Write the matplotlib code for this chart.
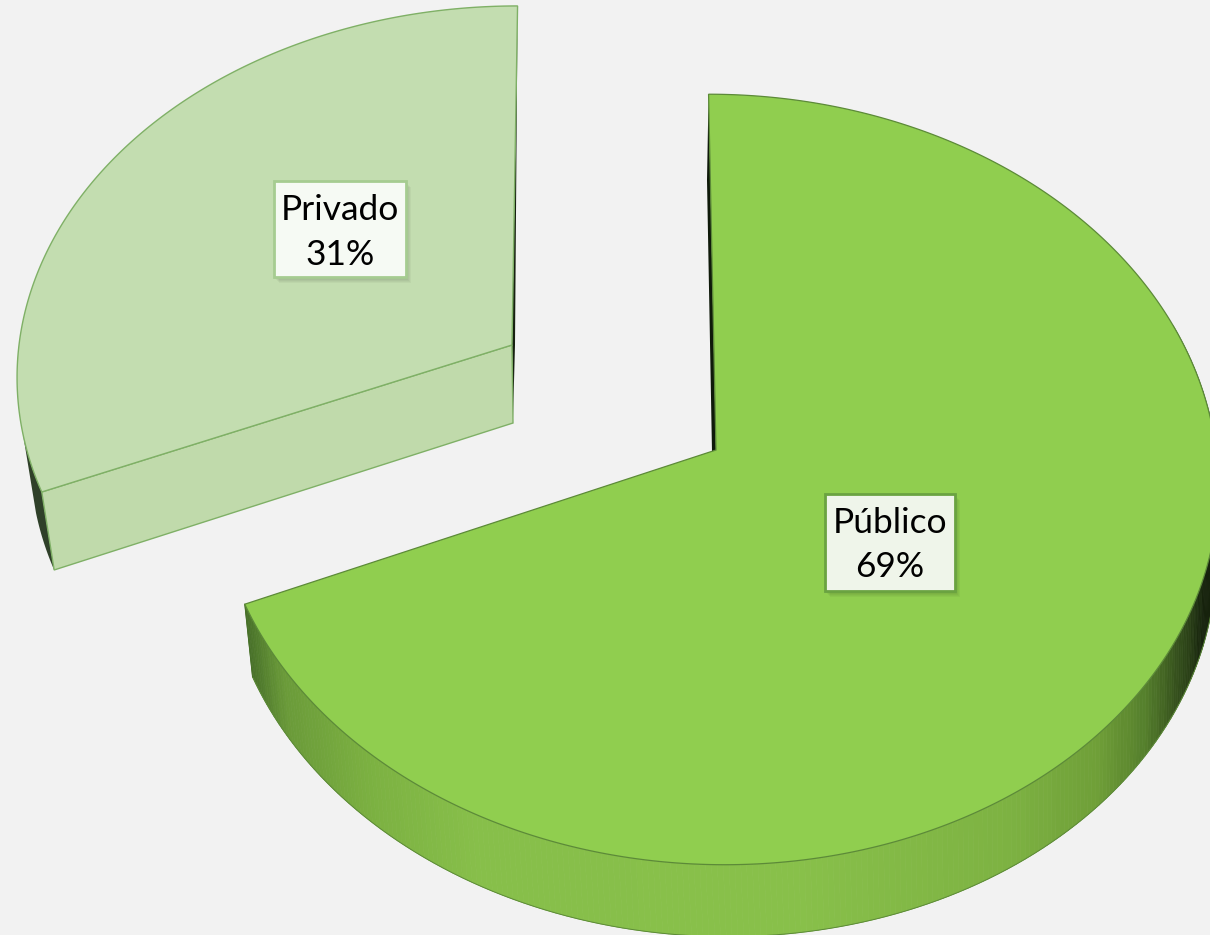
import matplotlib
matplotlib.use('Agg')
import matplotlib.pyplot as plt
from matplotlib.patches import Polygon, Rectangle
from matplotlib.collections import PolyCollection
from matplotlib.colors import LinearSegmentedColormap
import numpy as np

# Dati
labels = ['Público', 'Privado']
shares = [69, 31]

BG = '#f2f2f2'
K = 0.0765  # prospettiva


def project(theta, apex, R, a, shear=0.0):
    # punto sul cerchio (gradi, 0 = in alto, senso orario) -> pixel
    t = np.radians(theta)
    X, Y = np.sin(t), np.cos(t)
    d = 1 + K * Y
    return apex[0] + (R * X + shear * Y) / d, apex[1] - a * Y / d


fig = plt.figure(figsize=(12.1, 9.35), dpi=100, facecolor=BG)
ax = fig.add_axes([0, 0, 1, 1])
ax.set_xlim(0, 1210)
ax.set_ylim(935, 0)
ax.axis('off')

# Fetta Privado
span = shares[1] / 100 * 360 * 1.0125  # la prospettiva allarga un po' l'angolo
start = 0.0
end = start - span
th = np.linspace(start, end, 200)
ap = (512, 345)
ap2 = (513, 423)
px, py = project(th, ap, 493, 365, 6)
low = lambda t: project(t, ap2, 481, 365, 6)
cx, cy = low(end)
edge_p = '#7fb066'

# parete scura a sinistra
t_dark = np.linspace(end + 9, end, 40)
ux, uy = project(t_dark, ap, 493, 365, 6)
lx, ly = low(t_dark)
ax.add_patch(Polygon(np.r_[np.c_[ux, uy], np.c_[lx, ly][::-1]], fc='#2f4029', ec='none', zorder=1))
# parete scura a destra
ax.add_patch(Polygon([(px[0], py[0]), (ap[0] + 3, ap[1]), (ap2[0], ap2[1] - 5), ap],
                     fc='#16200f', ec='none', zorder=1))
# taglio frontale
ax.add_patch(Polygon([ap, ap2, (cx, cy), (px[-1], py[-1])], fc='#c0daab', ec=edge_p, lw=1, zorder=2))
# faccia superiore
ax.add_patch(Polygon(np.r_[[ap], np.c_[px, py]], fc='#c3ddb0', ec=edge_p, lw=1, zorder=3))

# Fetta Pubblico
span = shares[0] / 100 * 360 * 0.9944
start = 0.0
th = np.linspace(start, start + span, 400)
ap = (716, 450)
ap2 = (719, 523)
px, py = project(th, ap, 500, 383, -8)
qx, qy = project(th, ap2, 495, 382, -8)

# parete esterna con sfumatura
wall = LinearSegmentedColormap.from_list('wall', [(0, '#466f28'), (0.04, '#6a9a39'), (0.125, '#7bb041'),
                                                  (0.24, '#87bf4a'), (0.58, '#88c04a'), (0.8, '#7db242'),
                                                  (0.89, '#6f9f38'), (0.94, '#557f2c'), (0.985, '#2a4017'),
                                                  (1, '#16220c')])
quads = []
cols = []
for i in range(len(th) - 1):
    if th[i] < 70:  # parte nascosta
        continue
    quads.append([(px[i], py[i]), (px[i + 1], py[i + 1]), (qx[i + 1], qy[i + 1]), (qx[i], qy[i])])
    cols.append(wall(np.clip((qx[i] - 250) / 955, 0, 1)))
ax.add_collection(PolyCollection(quads, facecolors=cols, edgecolors='face', linewidths=0.5, zorder=2))
vis = th >= 70
ax.plot(qx[vis], qy[vis], color='#5c8a38', lw=0.7, zorder=2)
ax.plot([px[-1], qx[-1]], [py[-1], qy[-1]], color='#466f28', lw=0.7, zorder=2)
# parete interna scura
ax.add_patch(Polygon([(px[0], py[0]), (ap[0] - 9, ap[1] - 270), (ap[0] - 4, ap[1] + 2), ap],
                     fc='#0f1a0a', ec='none', zorder=2))
# faccia superiore
ax.add_patch(Polygon(np.r_[[ap], np.c_[px, py]], fc='#90ce4f', ec='#5c8a38', lw=0.9, zorder=3))

# Etichette
boxes = [(825, 494, 130, 97, '#eff5ea', '#6aa341', 523, 567, 890),
         (274, 181, 132, 96, '#f6faf4', '#a6cc91', 210, 255, 340)]
for (name, val, b) in zip(labels, shares, boxes):
    x0, y0, w, h, fc, ec, y1, y2, xc = b
    for off in [7, 6, 5, 4, 3, 2]:
        ax.add_patch(Rectangle((x0 + off - 2, y0 + off - 1), w, h, fc='black', ec='none', alpha=0.035, zorder=4))
    ax.add_patch(Rectangle((x0, y0), w, h, fc=fc, ec=ec, lw=2, zorder=5))
    ax.text(xc, y1, name, ha='center', va='center', fontsize=25.5, family='Lato', color='black', zorder=6)
    ax.text(xc, y2, f'{val}%', ha='center', va='center', fontsize=25.5, family='Lato', color='black', zorder=6)

fig.savefig('out.png', dpi=100, facecolor=BG)
